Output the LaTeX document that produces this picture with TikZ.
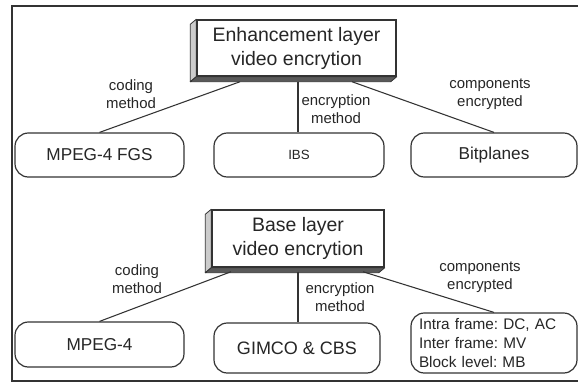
\documentclass[tikz,border=0pt]{standalone}
\usepackage{fontspec}
\setmainfont{Liberation Sans}
\usetikzlibrary{calc,backgrounds}

\tikzset{
  headbox/.style={draw=black!80, line width=1.1pt, fill=white, align=center,
    inner sep=0pt, font=\fontsize{14.6}{18}\selectfont, text=black!85},
  leafbox/.style={draw=black!80, line width=0.9pt, rounded corners=10pt,
    fill=white, inner sep=0pt, align=center,
    font=\fontsize{12.9}{15}\selectfont, text=black!85},
  edgelabel/.style={align=center, inner sep=0pt,
    font=\fontsize{11.2}{13.5}\selectfont, text=black!85},
  link/.style={draw=black!80, line width=0.8pt},
  sideface/.style={fill=black!20, draw=black!80, line width=0.6pt, line join=round},
  baseface/.style={fill=black!65, draw=black!80, line width=0.6pt, line join=round},
}

\begin{document}
\frenchspacing
\begin{tikzpicture}[x=0.75pt, y=-0.75pt]
\useasboundingbox (0,0) rectangle (578,390);

% outer frame
\draw[black!80, line width=1.3pt] (12,6) rectangle (584,381);

% ---------- enhancement layer ----------
\node[headbox, minimum width=149.25pt, minimum height=42pt] (enh) at (296.5,48)
  {Enhancement layer\\video encrytion};

\node[leafbox, minimum width=126.75pt, minimum height=33pt] (fgs) at (99.5,155) {MPEG-4 FGS};
\node[leafbox, minimum width=127.5pt, minimum height=33pt,
      font=\fontsize{10}{12}\selectfont] (ibs) at (299,155) {IBS};
\node[leafbox, minimum width=124.5pt, minimum height=33pt] (bit) at (494,155) {Bitplanes};

\coordinate (e1) at ($(enh.south)+(-56.5,5)$);
\coordinate (e2) at ($(enh.south)+(1.5,5)$);
\coordinate (e3) at ($(enh.south)+(55.5,5)$);
\draw[link] (e1) -- (fgs.north);
\draw[link] (e2) -- (e2 |- ibs.north);
\draw[link] (e3) -- (bit.north);

\node[edgelabel] (l1) at (131,94) {coding\\method};
\node[edgelabel] (l2) at (336,109) {encryption\\method};
\node[edgelabel] (l3) at (490,94) {components\\encrypted};

% ---------- base layer ----------
\node[headbox, minimum width=129pt, minimum height=42.75pt] (base) at (298,238.5)
  {Base layer\\video encrytion};

\node[leafbox, minimum width=126.75pt, minimum height=33.75pt] (mp4) at (99.5,344.5) {MPEG-4};
\node[leafbox, minimum width=124.5pt, minimum height=37.5pt,
      font=\fontsize{13.5}{15}\selectfont] (gim) at (297,348) {GIMCO \& CBS};
\node[leafbox, minimum height=45pt, align=left, inner xsep=6pt, text width=112.5pt,
      font=\fontsize{11.5}{13.9}\selectfont] (cmp) at (494,343)
  {Intra frame: DC, AC\\Inter frame: MV\\Block level: MB};

\coordinate (b1) at ($(base.south)+(-67,4)$);
\coordinate (b2) at ($(base.south)+(0,4)$);
\coordinate (b3) at ($(base.south)+(65,4)$);
\draw[link] (b1) -- (mp4.north);
\draw[link] (b2) -- (b2 |- gim.north);
\draw[link] (b3) -- (cmp.north);

\node[edgelabel] (m1) at (137,279) {coding\\method};
\node[edgelabel] (m2) at (340,297) {encryption\\method};
\node[edgelabel] (m3) at (480,277) {components\\encrypted};

% extruded faces of the two title boxes, behind their front faces
\begin{scope}[on background layer]
  \fill[white] (0,0) rectangle (578,390);
  \foreach \b in {enh,base}{
    \draw[sideface] (\b.north west) -- ++(-6,5) -- ($(\b.south west)+(-6,5)$) -- (\b.south west) -- cycle;
    \draw[baseface] (\b.south west) -- ++(-6,5) -- ($(\b.south east)+(-6,5)$) -- (\b.south east) -- cycle;
  }
\end{scope}
\end{tikzpicture}
\end{document}
